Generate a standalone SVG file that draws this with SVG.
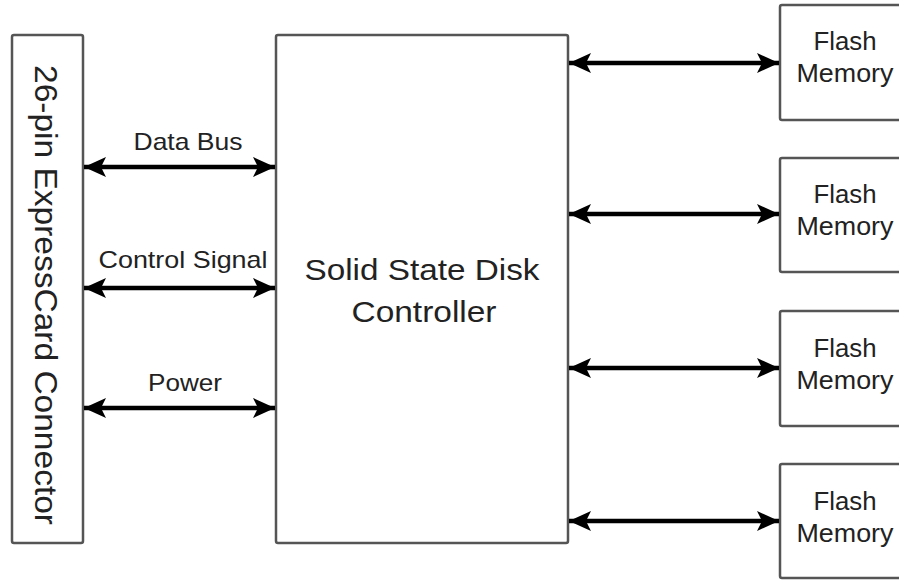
<svg xmlns="http://www.w3.org/2000/svg" width="899" height="584" viewBox="0 0 899 584">
<defs>
<marker id="ah" viewBox="0 0 22 20" refX="22" refY="10" markerWidth="22" markerHeight="20" markerUnits="userSpaceOnUse" orient="auto-start-reverse">
<path d="M0,0 L22,10 L0,20 L5,10 Z" fill="#000"/>
</marker>
<style>
.box{fill:#fff;stroke:#555;stroke-width:2.5}
.t{font-family:"Liberation Sans",Arial,sans-serif;fill:#222;text-anchor:middle}
.c{stroke:#000;stroke-width:4.5;fill:none;marker-start:url(#ah);marker-end:url(#ah)}
</style>
</defs>
<rect width="899" height="584" fill="#fff"/>
<g id="connector">
<rect class="box" x="12" y="35" width="71" height="508" rx="2"/>
<text class="t" font-size="31" transform="translate(35,295) rotate(90)" textLength="460" lengthAdjust="spacingAndGlyphs">26-pin ExpressCard Connector</text>
</g>
<g id="controller">
<rect class="box" x="276" y="35" width="292" height="508" rx="2"/>
<text class="t" font-size="30" x="422" y="280" textLength="235" lengthAdjust="spacingAndGlyphs">Solid State Disk</text>
<text class="t" font-size="30" x="424" y="322" textLength="145" lengthAdjust="spacingAndGlyphs">Controller</text>
</g>
<g id="flash1">
<rect class="box" x="780" y="5" width="130" height="115" rx="2"/>
<text class="t" font-size="25" x="845" y="50" textLength="63" lengthAdjust="spacingAndGlyphs">Flash</text>
<text class="t" font-size="25" x="845" y="82" textLength="97" lengthAdjust="spacingAndGlyphs">Memory</text>
</g>
<g id="flash2">
<rect class="box" x="780" y="158" width="130" height="114" rx="2"/>
<text class="t" font-size="25" x="845" y="203" textLength="63" lengthAdjust="spacingAndGlyphs">Flash</text>
<text class="t" font-size="25" x="845" y="235" textLength="97" lengthAdjust="spacingAndGlyphs">Memory</text>
</g>
<g id="flash3">
<rect class="box" x="780" y="311" width="130" height="115" rx="2"/>
<text class="t" font-size="25" x="845" y="357" textLength="63" lengthAdjust="spacingAndGlyphs">Flash</text>
<text class="t" font-size="25" x="845" y="389" textLength="97" lengthAdjust="spacingAndGlyphs">Memory</text>
</g>
<g id="flash4">
<rect class="box" x="780" y="464" width="130" height="114" rx="2"/>
<text class="t" font-size="25" x="845" y="510" textLength="63" lengthAdjust="spacingAndGlyphs">Flash</text>
<text class="t" font-size="25" x="845" y="542" textLength="97" lengthAdjust="spacingAndGlyphs">Memory</text>
</g>
<g id="connectors">
<line class="c" x1="84" y1="167" x2="275" y2="167"/>
<line class="c" x1="84" y1="288" x2="275" y2="288"/>
<line class="c" x1="84" y1="408" x2="275" y2="408"/>
<line class="c" x1="569" y1="63" x2="779" y2="63"/>
<line class="c" x1="569" y1="214" x2="779" y2="214"/>
<line class="c" x1="569" y1="368" x2="779" y2="368"/>
<line class="c" x1="569" y1="521" x2="779" y2="521"/>
<text class="t" font-size="24" x="188" y="150" textLength="109" lengthAdjust="spacingAndGlyphs">Data Bus</text>
<text class="t" font-size="24" x="183" y="268" textLength="169" lengthAdjust="spacingAndGlyphs">Control Signal</text>
<text class="t" font-size="24" x="185" y="391" textLength="74" lengthAdjust="spacingAndGlyphs">Power</text>
</g>
</svg>
